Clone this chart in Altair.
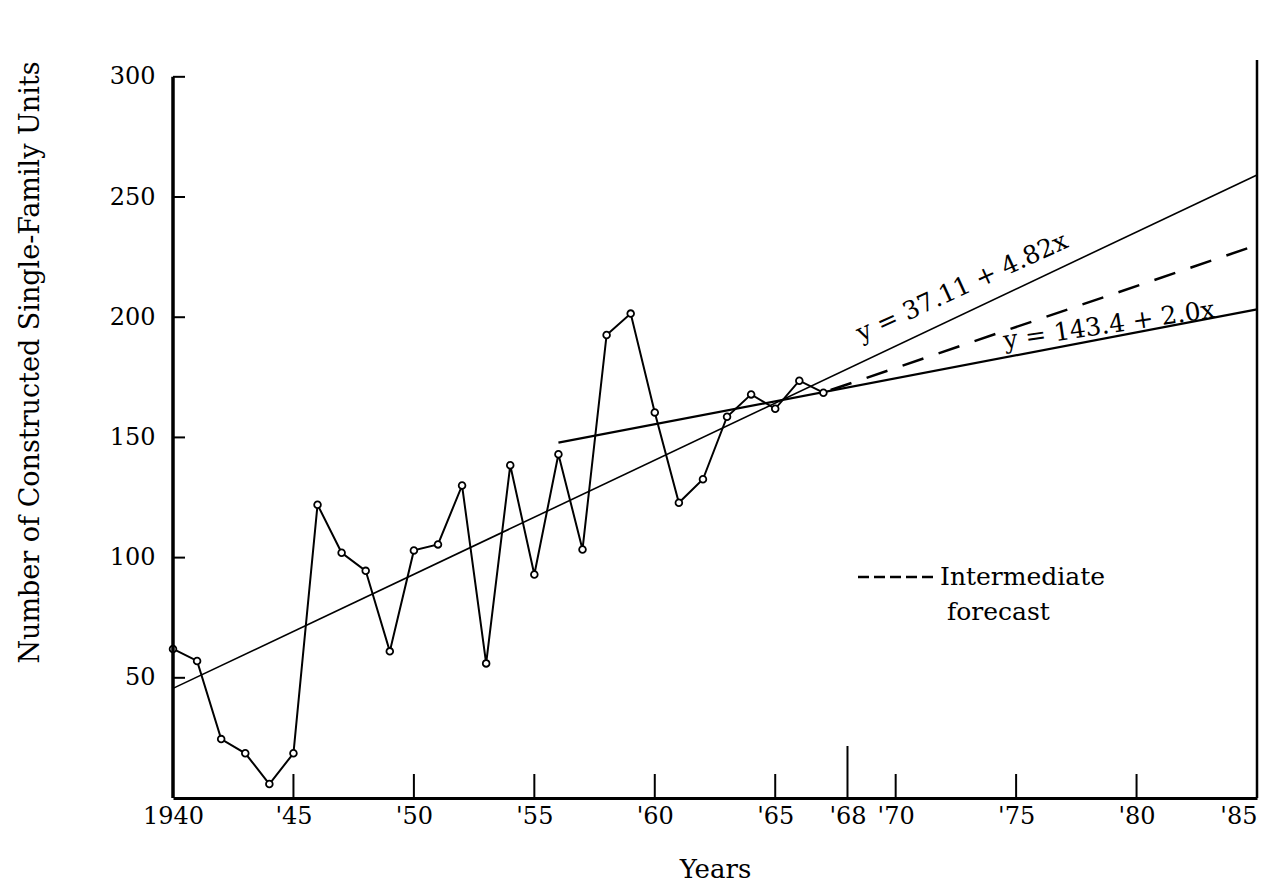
import altair as alt
import pandas as pd

# ---- data ----
years = list(range(1940, 1968))
units = [62, 57, 24.5, 18.6, 5.8, 18.6, 122, 102, 94.5, 61,
         103, 105.5, 130, 56, 138.4, 93, 143, 103.4, 192.6, 201.5,
         160.4, 122.8, 132.6, 158.6, 167.9, 161.9, 173.6, 168.6]

trend_long_years = [1940, 1985]
trend_long_vals = [45.6, 259.2]
trend_short_years = [1956, 1985]
trend_short_vals = [147.8, 203.3]
forecast_years = [1967.3, 1985]
forecast_vals = [169.7, 230.0]

x_ticks = [1940, 1945, 1950, 1955, 1960, 1965, 1968, 1970, 1975, 1980, 1985]
x_tick_labels = ["1940", "'45", "'50", "'55", "'60", "'65", "'68", "'70", "'75", "'80", "'85"]
y_ticks = [50, 100, 150, 200, 250, 300]

eq_long = "y = 37.11 + 4.82x"
eq_short = "y = 143.4 + 2.0x"
legend_lines = ["Intermediate", "forecast"]

# ---- layout ----
W, H = 1084, 738
FONT = "DejaVu Serif"

label_expr = "''"
for v, l in reversed(list(zip(x_ticks, x_tick_labels))):
    label_expr = f'datum.value == {v} ? "{l}" : ({label_expr})'

xscale = alt.Scale(domain=[1940, 1985], nice=False, zero=False)
yscale = alt.Scale(domain=[0, 307], nice=False, zero=True)

df = pd.DataFrame({"year": years, "units": units})
df_long = pd.DataFrame({"year": trend_long_years, "units": trend_long_vals})
df_short = pd.DataFrame({"year": trend_short_years, "units": trend_short_vals})
df_fc = pd.DataFrame({"year": forecast_years, "units": forecast_vals})
df_xt = pd.DataFrame({"t": x_ticks})
df_yt = pd.DataFrame({"v": y_ticks})
one = pd.DataFrame({"a": [0]})

x_enc = alt.X("year:Q", scale=xscale,
              axis=alt.Axis(values=x_ticks, labelExpr=label_expr, title="Years",
                            grid=False, ticks=False, domain=True, domainColor="black",
                            domainWidth=3, labelFont=FONT, labelFontSize=24,
                            labelColor="black", labelPadding=6, labelFlush=False,
                            labelOverlap=False,
                            labelAlign={"condition": {"test": "datum.value == 1985",
                                                      "value": "right"},
                                        "value": "center"},
                            titleFont=FONT, titleFontSize=26, titleFontWeight="normal",
                            titleColor="black", titleY=71, titleBaseline="middle"))
y_enc = alt.Y("units:Q", scale=yscale,
              axis=alt.Axis(values=y_ticks, title="Number of Constructed Single-Family Units",
                            grid=False, ticks=False, domain=False,
                            labelFont=FONT, labelFontSize=24, labelColor="black",
                            labelPadding=18,
                            titleFont=FONT, titleFontSize=27, titleFontWeight="normal",
                            titleColor="black", titleX=-143, titleY=302,
                            titleAngle=270, titleAlign="center", titleBaseline="middle"))

series_line = alt.Chart(df).mark_line(color="black", strokeWidth=2).encode(x=x_enc, y=y_enc)
series_pts = alt.Chart(df).mark_point(shape="circle", filled=True, fill="white",
                                      stroke="black", strokeWidth=1.8, size=45,
                                      opacity=1).encode(x="year:Q", y="units:Q")

long_line = alt.Chart(df_long).mark_line(color="black", strokeWidth=1.6).encode(
    x="year:Q", y="units:Q")
short_line = alt.Chart(df_short).mark_line(color="black", strokeWidth=2.3).encode(
    x="year:Q", y="units:Q")
fc_line = alt.Chart(df_fc).mark_line(color="black", strokeWidth=2.5,
                                     strokeDash=[22, 16]).encode(x="year:Q", y="units:Q")

left_axis = alt.Chart(one).mark_rule(color="black", strokeWidth=3.5).encode(
    x=alt.value(0), y=alt.datum(0), y2=alt.datum(max(y_ticks)))
right_border = alt.Chart(one).mark_rule(color="black", strokeWidth=2.5).encode(
    x=alt.value(W), y=alt.value(0), y2=alt.value(H))

xt_short = alt.Chart(df_xt).mark_rule(color="black", strokeWidth=2).encode(
    x="t:Q", y=alt.value(H), y2=alt.value(H - 24)).transform_filter("datum.t != 1968")
xt_long = alt.Chart(df_xt).mark_rule(color="black", strokeWidth=2).encode(
    x="t:Q", y=alt.value(H), y2=alt.value(H - 52)).transform_filter("datum.t == 1968")
yt = alt.Chart(df_yt).mark_rule(color="black", strokeWidth=2).encode(
    y="v:Q", x=alt.value(0), x2=alt.value(12))

eq1 = alt.Chart(one).mark_text(text=eq_long, font=FONT, fontSize=25, angle=335.5,
                               align="center", baseline="middle", color="black").encode(
    x=alt.value(789), y=alt.value(227))
eq2 = alt.Chart(one).mark_text(text=eq_short, font=FONT, fontSize=25, angle=351.5,
                               align="center", baseline="middle", color="black").encode(
    x=alt.value(936), y=alt.value(265))

leg_dash = alt.Chart(one).mark_rule(color="black", strokeWidth=2.5, strokeDash=[11, 5]).encode(
    x=alt.value(685), x2=alt.value(762), y=alt.value(517))
leg_t1 = alt.Chart(one).mark_text(text=legend_lines[0], font=FONT, fontSize=25, align="left",
                                  baseline="middle", color="black").encode(
    x=alt.value(767), y=alt.value(517))
leg_t2 = alt.Chart(one).mark_text(text=legend_lines[1], font=FONT, fontSize=25, align="left",
                                  baseline="middle", color="black").encode(
    x=alt.value(774), y=alt.value(552))

chart = alt.layer(
    long_line, short_line, fc_line, series_line, series_pts,
    left_axis, right_border, xt_short, xt_long, yt,
    eq1, eq2, leg_dash, leg_t1, leg_t2
).properties(
    width=W, height=H,
    autosize=alt.AutoSizeParams(type="none"),
    padding={"left": 165, "top": 52, "right": 5, "bottom": 86},
    background="white"
).configure_view(stroke=None)

chart.save("out.html", embed_options={"renderer": "svg", "actions": False})
